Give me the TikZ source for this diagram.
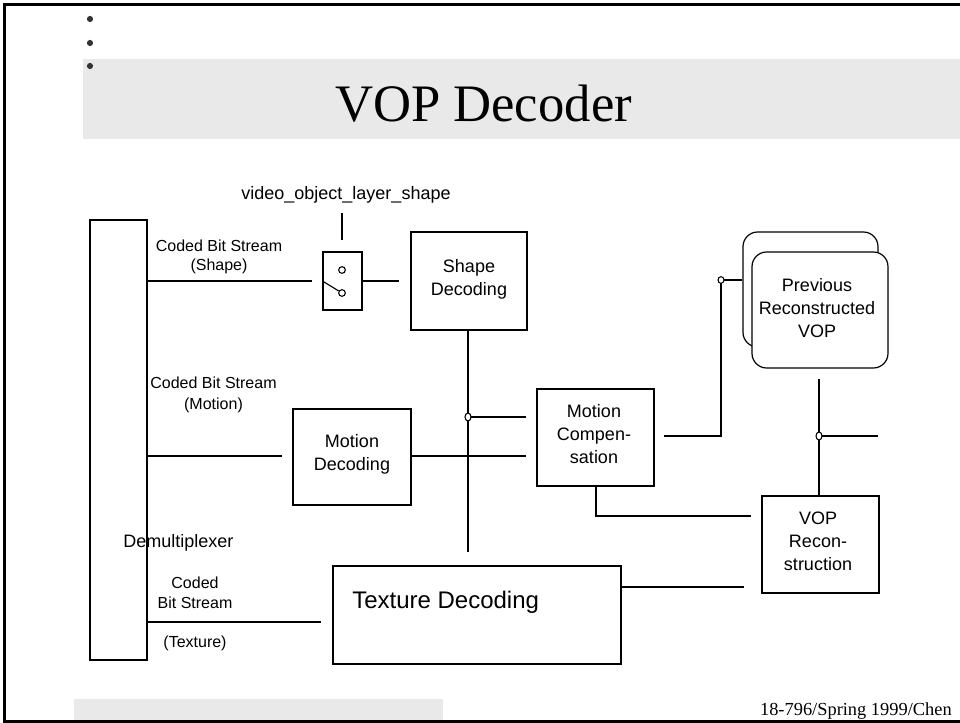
\documentclass[tikz,border=0pt]{standalone}
\usepackage{fontspec}
\setmainfont{Liberation Serif}
\setsansfont{Liberation Sans}
\usetikzlibrary{shapes.geometric}
\definecolor{band}{HTML}{E9E9E9}
\definecolor{bul}{HTML}{333333}
\begin{document}
\begin{tikzpicture}[x=0.75pt,y=-0.75pt,
  box/.style={draw, line width=0.9pt, inner sep=0pt, align=center,
    font=\sffamily\fontsize{13.5}{17.25}\selectfont},
  lbl/.style={inner sep=0pt, align=center, font=\sffamily\fontsize{12}{15}\selectfont},
  btext/.style={inner sep=0pt, align=center, font=\sffamily\fontsize{13.5}{17.25}\selectfont},
  wire/.style={line width=0.85pt},
  jdot/.style={ellipse, draw, fill=white, line width=0.8pt, inner sep=0pt,
    minimum width=4.5pt, minimum height=6pt},
  pin/.style={circle, draw, fill=white, line width=0.8pt, inner sep=0pt, minimum size=5pt}]
\useasboundingbox (0,0) rectangle (960,723);
\clip (0,0) rectangle (960,723);

% slide background: title band, footer band, frame
\fill[band] (83,59) rectangle (960,139);
\fill[band] (74,699) rectangle (443,721);
\draw[line width=2.1pt] (965,4.7) -- (4.4,4.7) -- (4.4,721.4) -- (965,721.4);

% bullets
\foreach \yy in {19,43,66} \fill[bul] (90,\yy) circle (3.1);

% title and footer
\node[anchor=base, inner sep=0pt, font=\fontsize{39.5}{40}\selectfont] (title) at (483.5,122) {VOP Decoder};
\node[anchor=base east, inner sep=0pt, font=\fontsize{13.8}{14}\selectfont] (foot) at (952,715) {18-796/Spring 1999/Chen};

% blocks
\node[box, minimum width=42.75pt, minimum height=330pt] (demux) at (118.5,440) {};
\node[btext, anchor=west] (demuxlbl) at (123,543) {Demultiplexer};
\node[box, minimum width=29.25pt, minimum height=43.5pt] (sw) at (342.5,281) {};
\node[box, minimum width=87pt, minimum height=73.5pt] (shape) at (469,281) {};
\node[btext] (shapelbl) at (469,279) {Shape\\Decoding};
\node[box, minimum width=88.5pt, minimum height=72pt] (mdec) at (352,457) {};
\node[btext] (mdeclbl) at (352,454) {Motion\\Decoding};
\node[box, minimum width=87.75pt, minimum height=72.75pt] (mc) at (595.5,437.5) {};
\node[btext] (mclbl) at (594,434.5) {Motion\\Compen-\\sation};
\node[box, rounded corners=11pt, minimum width=101.25pt, minimum height=86.25pt] (prevback) at (810.5,289.5) {};
\node[box, fill=white, rounded corners=11pt, minimum width=102pt, minimum height=87pt] (prev) at (820,310) {};
\node[btext] (prevlbl) at (817,308) {Previous\\Reconstructed\\VOP};
\node[box, minimum width=87.75pt, minimum height=72.75pt] (rec) at (820.5,544.5) {};
\node[btext] (reclbl) at (818,541.5) {VOP\\Recon-\\struction};
\node[box, minimum width=216pt, minimum height=73.5pt] (tex) at (477,615) {};
\node[inner sep=0pt, anchor=west, font=\sffamily\fontsize{18}{20}\selectfont] (texlbl) at (352,602) {Texture Decoding};

% stream labels
\node[btext] (volabel) at (346,195) {video\_object\_layer\_shape};
\node[lbl, font=\sffamily\fontsize{12}{14.25}\selectfont] (cshape) at (219,256.5) {Coded Bit Stream\\(Shape)};
\node[lbl, font=\sffamily\fontsize{12}{15.75}\selectfont] (cmotion) at (213.5,394.5) {Coded Bit Stream\\(Motion)};
\node[lbl] (ctex) at (195,593) {Coded\\Bit Stream};
\node[lbl] (ctex2) at (195,643) {(Texture)};

% free ends of the connectors
\coordinate (shIn) at (312,281);
\coordinate (shOut) at (399,281);
\coordinate (ctrlTop) at (342,213);
\coordinate (ctrlEnd) at (342,240);
\coordinate (shDown) at (468,552);
\coordinate (jShape) at (468,417);
\coordinate (mcIn1) at (526,417);
\coordinate (mIn) at (282,456);
\coordinate (mcIn2) at (526,456);
\coordinate (mcOut) at (664,436);
\coordinate (mcCorner) at (721,436);
\coordinate (jPrev) at (721,280);
\coordinate (prevIn) at (742,280);
\coordinate (prevDown) at (819,379);
\coordinate (recTop) at (819,495);
\coordinate (jOut) at (819,436);
\coordinate (outEnd) at (878,436);
\coordinate (mcCorner2) at (596,516);
\coordinate (recIn1) at (751,516);
\coordinate (recIn2) at (744,587);
\coordinate (tIn) at (321,622);

% connectors
\draw[wire] (demux.east |- shIn) -- (shIn);
\draw[wire] (ctrlTop) -- (ctrlEnd);
\draw[wire] (sw.east |- shOut) -- (shOut);
\draw[wire] (shape.south -| jShape) -- (shDown);
\draw[wire] (jShape) -- (mcIn1);
\draw[wire] (demux.east |- mIn) -- (mIn);
\draw[wire] (mdec.east |- mcIn2) -- (mcIn2);
\draw[wire] (mcOut) -- (mcCorner) -- (jPrev) -- (prevIn);
\draw[wire] (prevDown) -- (recTop);
\draw[wire] (jOut) -- (outEnd);
\draw[wire] (mc.south -| mcCorner2) -- (mcCorner2) -- (recIn1);
\draw[wire] (tex.east |- recIn2) -- (recIn2);
\draw[wire] (demux.east |- tIn) -- (tIn);

% switch contacts
\node[pin] (pinA) at (342,270) {};
\node[pin] (pinB) at (342,293) {};
\draw[wire] (sw.west |- shIn) -- (pinB);

% junction dots
\node[jdot] (dShape) at (jShape) {};
\node[jdot, minimum height=5pt] (dPrev) at (jPrev) {};
\node[jdot] (dOut) at (jOut) {};
\end{tikzpicture}
\end{document}
